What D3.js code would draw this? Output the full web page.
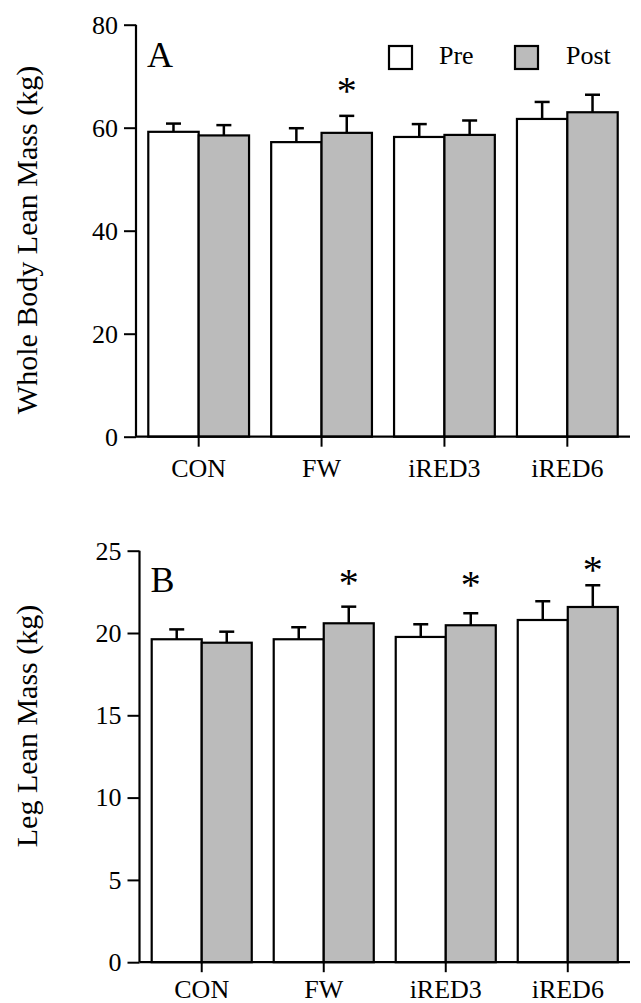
<!DOCTYPE html>
<html>
<head>
<meta charset="utf-8">
<script src="https://cdn.jsdelivr.net/npm/d3@7"></script>
<style>
  body { margin: 0; background: #fff; }
  svg text { font-family: "Liberation Serif", "Times New Roman", serif; fill: #000; }
</style>
</head>
<body>
<svg id="chart" width="641" height="1003"></svg>
<script>
// Groups and series
const groups = ["CON", "FW", "iRED3", "iRED6"];
const phases = ["Pre", "Post"];

// Panel A - whole body lean mass (kg), mean and upper SD
const wholePre = [59.2, 57.2, 58.2, 61.7];
const wholePreErr = [1.6, 2.7, 2.5, 3.3];
const wholePost = [58.5, 59.0, 58.6, 63.0];
const wholePostErr = [2.0, 3.3, 2.8, 3.4];
const wholeStar = [null, 68.3, null, null];
const wholeTicks = [0, 20, 40, 60, 80];

// Panel B - leg lean mass (kg)
const legPre = [19.62, 19.62, 19.76, 20.79];
const legPreErr = [0.6, 0.73, 0.77, 1.14];
const legPost = [19.41, 20.59, 20.47, 21.58];
const legPostErr = [0.67, 1.01, 0.73, 1.32];
const legStar = [null, 23.4, 23.3, 24.2];
const legTicks = [0, 5, 10, 15, 20, 25];

const fills = { Pre: "#ffffff", Post: "#bbbbbb" };
const svg = d3.select("#chart");

function drawPanel(opt) {
    const x = d3.scaleBand()
        .domain(groups)
        .range([opt.left, 630])
        .paddingInner(0.18)
        .paddingOuter(0.1);
    const xSub = d3.scaleBand()
        .domain(phases)
        .range([0, x.bandwidth()]);
    const y = d3.scaleLinear()
        .domain([0, d3.max(opt.ticks)])
        .range([opt.bottom, opt.top]);

    const g = svg.append("g");

    // build rows for bars
    const rows = [];
    groups.forEach((grp, i) => {
        rows.push({ grp: grp, phase: "Pre", v: opt.pre[i], e: opt.preErr[i] });
        rows.push({ grp: grp, phase: "Post", v: opt.post[i], e: opt.postErr[i] });
    });

    // error bars (upper only) drawn first, so bar outline sits on top
    const eb = g.selectAll(".err").data(rows).enter().append("g");
    eb.append("line")
        .attr("x1", d => x(d.grp) + xSub(d.phase) + xSub.bandwidth() / 2)
        .attr("x2", d => x(d.grp) + xSub(d.phase) + xSub.bandwidth() / 2)
        .attr("y1", d => y(d.v))
        .attr("y2", d => y(d.v + d.e))
        .attr("stroke", "#000").attr("stroke-width", 2.5);
    eb.append("line")
        .attr("x1", d => x(d.grp) + xSub(d.phase) + xSub.bandwidth() / 2 - 7.5)
        .attr("x2", d => x(d.grp) + xSub(d.phase) + xSub.bandwidth() / 2 + 7.5)
        .attr("y1", d => y(d.v + d.e))
        .attr("y2", d => y(d.v + d.e))
        .attr("stroke", "#000").attr("stroke-width", 2.5);

    g.selectAll(".bar").data(rows).enter().append("rect")
        .attr("x", d => x(d.grp) + xSub(d.phase))
        .attr("y", d => y(d.v))
        .attr("width", xSub.bandwidth())
        .attr("height", d => y(0) - y(d.v))
        .attr("fill", d => fills[d.phase])
        .attr("stroke", "#000")
        .attr("stroke-width", 2.2);

    // significance asterisks over Post bars
    g.selectAll(".star").data(groups.filter((grp, i) => opt.star[i] != null)).enter()
        .append("text")
        .attr("x", grp => x(grp) + xSub("Post") + xSub.bandwidth() / 2)
        .attr("y", grp => y(opt.star[groups.indexOf(grp)]) + 19)
        .attr("text-anchor", "middle")
        .style("font-size", "40px")
        .text("*");

    // y axis
    const yAxis = g.append("g")
        .attr("transform", `translate(${opt.left},0)`)
        .call(d3.axisLeft(y).tickValues(opt.ticks).tickSize(12).tickPadding(6));
    yAxis.select(".domain").attr("stroke-width", 2.2).attr("d", `M0,${opt.bottom}V${opt.top}`);
    yAxis.selectAll(".tick line").attr("stroke-width", 2);
    yAxis.selectAll(".tick text")
        .style("font-size", "26px")
        .style("font-family", "Liberation Serif");

    // x axis
    const xAxis = g.append("g")
        .attr("transform", `translate(0,${opt.bottom})`)
        .call(d3.axisBottom(x).tickSize(10).tickPadding(opt.xPad));
    xAxis.select(".domain").attr("stroke-width", 2.2).attr("d", `M${opt.left},0H630`);
    xAxis.selectAll(".tick line").attr("stroke-width", 2);
    xAxis.selectAll(".tick text")
        .style("font-size", "26px")
        .style("font-family", "Liberation Serif");

    // panel letter
    g.append("text")
        .attr("x", opt.left + 11)
        .attr("y", opt.letterY)
        .style("font-size", "36px")
        .text(opt.letter);

    // y title
    g.append("text")
        .attr("transform", `translate(37,${opt.titleY}) rotate(-90)`)
        .attr("text-anchor", "middle")
        .style("font-size", "30px")
        .text(opt.title);
}

drawPanel({
    left: 136, top: 24.7, bottom: 436.7, xPad: 12,
    ticks: wholeTicks, pre: wholePre, preErr: wholePreErr,
    post: wholePost, postErr: wholePostErr, star: wholeStar,
    letter: "A", letterY: 66.7,
    title: "Whole Body Lean Mass (kg)", titleY: 240
});

drawPanel({
    left: 139.5, top: 550.7, bottom: 962.2, xPad: 7,
    ticks: legTicks, pre: legPre, preErr: legPreErr,
    post: legPost, postErr: legPostErr, star: legStar,
    letter: "B", letterY: 591.7,
    title: "Leg Lean Mass (kg)", titleY: 726
});

// legend (panel A)
const legend = svg.append("g").selectAll("g").data(phases).enter().append("g")
    .attr("transform", (d, i) => `translate(${389 + i * 126},46)`);
legend.append("rect")
    .attr("width", 23).attr("height", 23)
    .attr("fill", d => fills[d])
    .attr("stroke", "#000").attr("stroke-width", 2.2);
legend.append("text")
    .attr("x", d => d === "Pre" ? 50 : 51)
    .attr("y", 18)
    .style("font-size", "26px")
    .text(d => d);
</script>
</body>
</html>
